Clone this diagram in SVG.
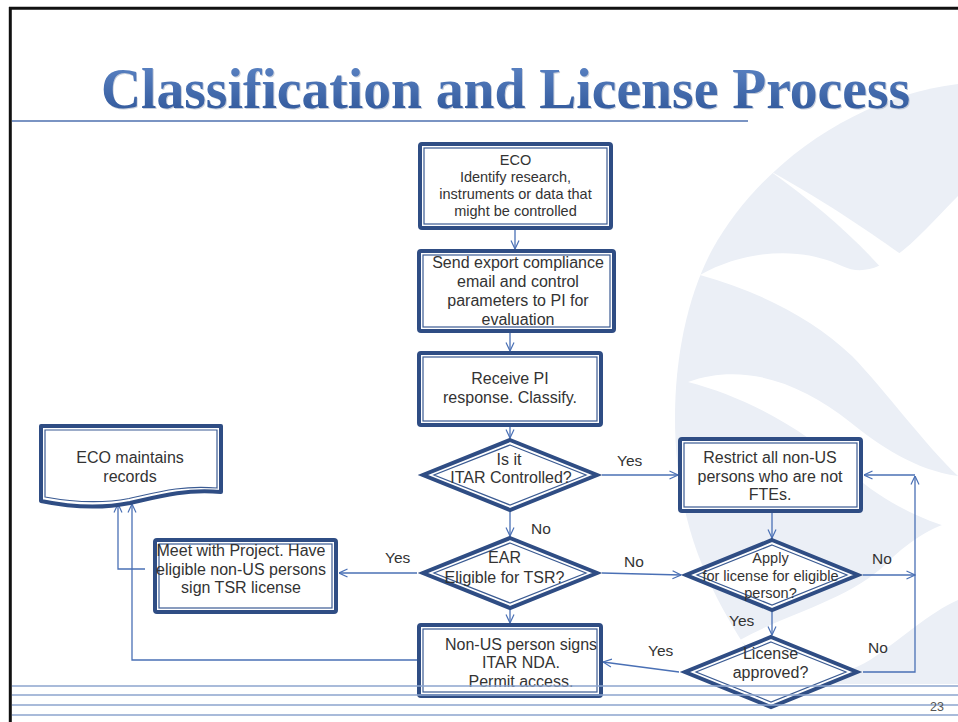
<svg xmlns="http://www.w3.org/2000/svg" width="958" height="722" viewBox="0 0 958 722">
<defs>
<style>
.bx{fill:#fff;stroke:#2f4d84;stroke-width:4;}
.bi{fill:none;stroke:#3b5b93;stroke-width:1.2;}
.t{font-family:"Liberation Sans",Arial,sans-serif;font-size:16px;fill:#333;text-anchor:middle;}
.s{font-size:14.5px;}
.lb{font-family:"Liberation Sans",Arial,sans-serif;font-size:15.5px;fill:#333;}
.c{fill:none;stroke:#4a70b5;stroke-width:1.3;}
.wm{fill:#ebeff6;}
.ww{fill:#fff;}
.bl{stroke:#8da4ce;stroke-width:1.6;}
.tt{font-family:"Liberation Serif","Times New Roman",serif;font-weight:bold;font-size:57px;text-anchor:middle;}
.ts{fill:#a3aec4;opacity:0.6;}
.tf{fill:url(#tg);}
</style>
<marker id="arr" viewBox="0 0 10 10" refX="9.5" refY="5" markerWidth="10" markerHeight="10" markerUnits="userSpaceOnUse" orient="auto">
<path d="M1,1 L9.5,5 L1,9" fill="none" stroke="#4a70b5" stroke-width="1.2"/>
</marker>
<linearGradient id="tg" x1="0" y1="0" x2="0" y2="1">
<stop offset="0" stop-color="#6088c8"/>
<stop offset="1" stop-color="#2c5396"/>
</linearGradient>
</defs>
<rect x="0" y="0" width="958" height="722" fill="#fff"/>
<g id="watermark">
<path class="wm" d="M958,84 C860,96 762,160 712,250 C672,325 664,440 690,530 C708,592 740,640 770,684 L958,684 Z"/>
<path class="ww" d="M770,171 C830,204 878,238 905,257 L888,276 C858,240 816,204 770,171 Z"/>
<path class="ww" d="M700,275 C745,250 800,246 842,266 C880,284 915,240 958,196 L958,476 C925,445 885,390 852,356 C812,318 760,292 700,275 Z"/>
<path class="ww" d="M688,382 C742,362 800,382 850,422 C880,446 915,470 958,476 L958,530 C920,520 882,500 852,474 C802,426 742,396 688,382 Z"/>
<path class="ww" d="M740,640 C790,612 850,600 888,562 C912,538 938,524 958,520 L958,600 C930,612 900,640 870,660 C830,684 782,680 740,640 Z"/>
</g>
<g id="frame">
<line x1="10.3" y1="7" x2="10.3" y2="722" stroke="#111" stroke-width="3"/>
<line x1="9" y1="8.2" x2="958" y2="8.2" stroke="#111" stroke-width="3"/>
</g>
<g id="title">
<g transform="scale(0.975,1)">
<text class="tt ts" x="519.5" y="109.3">Classification and License Process</text>
<text class="tt tf" x="518.5" y="108">Classification and License Process</text>
</g>
<line x1="12" y1="121" x2="748" y2="121" stroke="#7a94c3" stroke-width="2"/>
</g>
<g id="connectors">
<path class="c" d="M515,230 V249" marker-end="url(#arr)"/>
<path class="c" d="M510,333 V351" marker-end="url(#arr)"/>
<path class="c" d="M510,427 V438" marker-end="url(#arr)"/>
<path class="c" d="M510,512 V536" marker-end="url(#arr)"/>
<path class="c" d="M510,610 V623" marker-end="url(#arr)"/>
<path class="c" d="M602,475 H678" marker-end="url(#arr)"/>
<path class="c" d="M417,573 H339" marker-end="url(#arr)"/>
<path class="c" d="M602,573 L681,575" marker-end="url(#arr)"/>
<path class="c" d="M772,513 V538" marker-end="url(#arr)"/>
<path class="c" d="M863,575 H915" marker-end="url(#arr)"/>
<path class="c" d="M772,612 V635" marker-end="url(#arr)"/>
<path class="c" d="M679,672 L603,662" marker-end="url(#arr)"/>
<path class="c" d="M863,672 H915 V476" marker-end="url(#arr)"/>
<path class="c" d="M915,475 H864" marker-end="url(#arr)"/>
<path class="c" d="M145,569 H118 V504" marker-end="url(#arr)"/>
<path class="c" d="M417,660 H132 V504" marker-end="url(#arr)"/>
</g>
<g id="n1">
<rect class="bx" x="420" y="144" width="191" height="84" rx="2"/>
<rect class="bi" x="424" y="148" width="183" height="76"/>
<text class="t s"><tspan x="515.5" y="164.5">ECO</tspan><tspan x="515.5" y="181.5">Identify research,</tspan><tspan x="515.5" y="198.5">instruments or data that</tspan><tspan x="515.5" y="215.5">might be controlled</tspan></text>
</g>
<g id="n2">
<rect class="bx" x="419" y="251" width="195" height="80" rx="2"/>
<rect class="bi" x="423" y="255" width="187" height="72"/>
<text class="t"><tspan x="518" y="268">Send export compliance</tspan><tspan x="518" y="287">email and control</tspan><tspan x="518" y="306">parameters to PI for</tspan><tspan x="518" y="325">evaluation</tspan></text>
</g>
<g id="n3">
<rect class="bx" x="419" y="353" width="182" height="72" rx="2"/>
<rect class="bi" x="423" y="357" width="174" height="64"/>
<text class="t"><tspan x="510" y="384">Receive PI</tspan><tspan x="510" y="403">response. Classify.</tspan></text>
</g>
<g id="n4">
<polygon class="bx" points="510,440 597,475 510,510 423,475"/>
<polygon class="bi" points="510,445 586,475 510,505 434,475"/>
<text class="t"><tspan x="509" y="465">Is it</tspan><tspan x="511" y="483">ITAR Controlled?</tspan></text>
</g>
<g id="n5">
<polygon class="bx" points="510,538 597,573 510,608 423,573"/>
<polygon class="bi" points="510,543 586,573 510,603 434,573"/>
<text class="t"><tspan x="504.5" y="563">EAR</tspan><tspan x="504.5" y="583">Eligible for TSR?</tspan></text>
</g>
<g id="n6">
<rect class="bx" x="419" y="625" width="182" height="71" rx="2"/>
<rect class="bi" x="423" y="629" width="174" height="63"/>
<text class="t"><tspan x="521" y="649.5">Non-US person signs</tspan><tspan x="521" y="668">ITAR NDA.</tspan><tspan x="521" y="686.5">Permit access.</tspan></text>
</g>
<g id="n7">
<rect class="bx" x="680" y="439" width="181" height="72" rx="2"/>
<rect class="bi" x="684" y="443" width="173" height="64"/>
<text class="t"><tspan x="770" y="463">Restrict all non-US</tspan><tspan x="770" y="482">persons who are not</tspan><tspan x="770" y="500">FTEs.</tspan></text>
</g>
<g id="n8">
<polygon class="bx" points="772,540 858,575 772,610 686,575"/>
<polygon class="bi" points="772,545 847,575 772,605 697,575"/>
<text class="t s"><tspan x="770.5" y="563">Apply</tspan><tspan x="770.5" y="580.5">for license for eligible</tspan><tspan x="770.5" y="598">person?</tspan></text>
</g>
<g id="n9">
<polygon class="bx" points="771,637 857,672 771,707 685,672"/>
<polygon class="bi" points="771,642 846,672 771,702 696,672"/>
<text class="t"><tspan x="770.5" y="659">License</tspan><tspan x="770.5" y="678">approved?</tspan></text>
</g>
<g id="n10">
<rect class="bx" x="155" y="540" width="181" height="72" rx="2"/>
<rect class="bi" x="159" y="544" width="173" height="64"/>
<text class="t"><tspan x="241" y="556">Meet with Project. Have</tspan><tspan x="241" y="574.5">eligible non-US persons</tspan><tspan x="241" y="593">sign TSR license</tspan></text>
</g>
<g id="n11">
<path class="bx" d="M41,426 H221 V492 C185,489 160,496 130,503 C100,509 70,507 41,501 Z" stroke-linejoin="round"/>
<path class="bi" d="M45,430 H217 V488 C182,485 158,492 129,498.5 C100,504 72,502 45,497 Z"/>
<text class="t"><tspan x="130" y="463">ECO maintains</tspan><tspan x="130" y="482">records</tspan></text>
</g>
<g id="labels">
<text class="lb" x="531" y="534">No</text>
<text class="lb" x="617" y="466">Yes</text>
<text class="lb" x="385" y="563">Yes</text>
<text class="lb" x="624" y="567">No</text>
<text class="lb" x="872" y="564">No</text>
<text class="lb" x="729" y="626">Yes</text>
<text class="lb" x="648" y="656">Yes</text>
<text class="lb" x="868" y="653">No</text>
</g>
<g id="footer">
<line class="bl" x1="12" y1="686" x2="958" y2="686"/>
<line class="bl" x1="12" y1="695" x2="958" y2="695"/>
<line class="bl" x1="12" y1="705" x2="958" y2="705"/>
<line class="bl" x1="12" y1="715" x2="958" y2="715"/>
<text x="930" y="711" font-family="'Liberation Sans',Arial,sans-serif" font-size="12.5" fill="#555">23</text>
</g>
</svg>
